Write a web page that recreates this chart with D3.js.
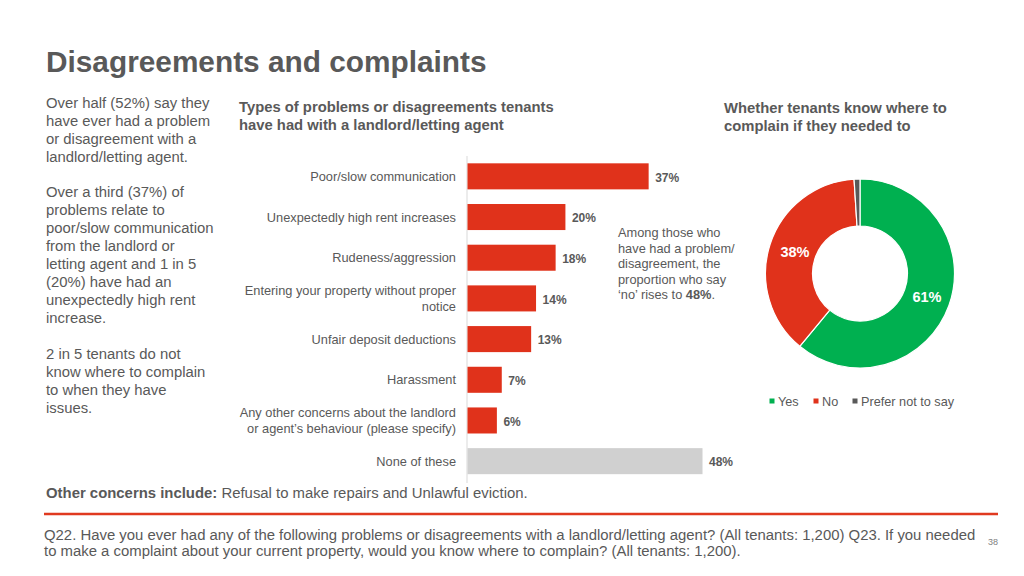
<!DOCTYPE html>
<html><head><meta charset="utf-8">
<script src="https://cdn.jsdelivr.net/npm/d3@7"></script>
<style>body{margin:0;background:#fff;}svg{display:block;font-family:"Liberation Sans",Arial,sans-serif;}</style>
</head><body>
<svg id="c" width="1024" height="576"></svg>
<script>
const categories = [
  ["Poor/slow communication"],
  ["Unexpectedly high rent increases"],
  ["Rudeness/aggression"],
  ["Entering your property without proper","notice"],
  ["Unfair deposit deductions"],
  ["Harassment"],
  ["Any other concerns about the landlord","or agent\u2019s behaviour (please specify)"],
  ["None of these"]
];
const values = [37, 20, 18, 14, 13, 7, 6, 48];
const barIsNone = [false,false,false,false,false,false,false,true];
const pieLabels = ["Yes", "No", "Prefer not to say"];
const pieValues = [61, 38, 1];
const pieShown = ["61%", "38%", ""];

const svg = d3.select("#c");
const txt = "#595959";
const red = "#e0321b", green = "#00b050", dark = "#595959", grey = "#d0d0d0";

svg.append("text").attr("x",46).attr("y",72).attr("font-size",29.8).attr("font-weight","bold").attr("fill",txt).text("Disagreements and complaints");

const leftParas = [
  [103, ["Over half (52%) say they","have ever had a problem","or disagreement with a","landlord/letting agent."]],
  [192, ["Over a third (37%) of","problems relate to","poor/slow communication","from the landlord or","letting agent and 1 in 5","(20%) have had an","unexpectedly high rent","increase."]],
  [354, ["2 in 5 tenants do not","know where to complain","to when they have","issues."]]
];
leftParas.forEach(([y0, lines]) => {
  lines.forEach((l,i)=> svg.append("text").attr("x",46).attr("y",y0+i*18).attr("dy","0.35em").attr("font-size",14.85).attr("fill",txt).text(l));
});

[["Types of problems or disagreements tenants",239,107],["have had with a landlord/letting agent",239,125],
 ["Whether tenants know where to",724,108],["complain if they needed to",724,126]].forEach(([t,x,y])=>
  svg.append("text").attr("x",x).attr("y",y).attr("dy","0.35em").attr("font-size",14.8).attr("font-weight","bold").attr("fill",txt).text(t));

// Bar chart
const x0 = 467;
const xs = d3.scaleLinear().domain([0,48]).range([x0, 702]);
const ys = d3.scaleBand().domain(d3.range(values.length)).range([156, 481.5]).paddingInner(0.36).paddingOuter(0.18);
svg.append("line").attr("x1",x0).attr("x2",x0).attr("y1",156).attr("y2",483).attr("stroke","#d9d9d9").attr("stroke-width",1);
const g = svg.append("g");
values.forEach((v,i)=>{
  g.append("rect").attr("x",xs(0)+0.5).attr("y",ys(i)).attr("width",xs(v)-xs(0)).attr("height",ys.bandwidth()).attr("fill",barIsNone[i]?grey:red);
  const cy = ys(i)+ys.bandwidth()/2;
  g.append("text").attr("x",xs(v)+7).attr("y",cy+1).attr("dy","0.35em").attr("font-size",12).attr("font-weight","bold").attr("fill",txt).text(v+"%");
  const lines = categories[i];
  lines.forEach((l,k)=>{
    g.append("text").attr("x",456).attr("y",cy+(k-(lines.length-1)/2)*15.5).attr("dy","0.35em").attr("text-anchor","end").attr("font-size",12.8).attr("fill",txt).text(l);
  });
});

// annotation
const ann = ["Among those who","have had a problem/","disagreement, the","proportion who say"];
ann.forEach((l,i)=> svg.append("text").attr("x",618).attr("y",233+i*15.5).attr("dy","0.35em").attr("font-size",12.8).attr("fill",txt).text(l));
const lastAnn = svg.append("text").attr("x",618).attr("y",233+4*15.5).attr("dy","0.35em").attr("font-size",12.8).attr("fill",txt);
lastAnn.append("tspan").text("\u2018no\u2019 rises to ");
lastAnn.append("tspan").attr("font-weight","bold").text("48%");
lastAnn.append("tspan").text(".");

// Donut
const pieColors = [green, red, dark];
const cx = 860, cy = 273.5;
const pie = d3.pie().sort(null).value(d=>d)(pieValues);
const arc = d3.arc().innerRadius(47.5).outerRadius(94.5);
const pg = svg.append("g").attr("transform",`translate(${cx},${cy})`);
pg.selectAll("path").data(pie).join("path").attr("d",arc).attr("fill",(d,i)=>pieColors[i]).attr("stroke","#fff").attr("stroke-width",1.2);
const labelPos = [[67,23.5],[-65,-21.5]];
[0,1].forEach(i=>{
  pg.append("text").attr("x",labelPos[i][0]).attr("y",labelPos[i][1]).attr("dy","0.35em").attr("text-anchor","middle").attr("font-size",14.5).attr("font-weight","bold").attr("fill","#fff").text(pieShown[i]);
});

// legend
const legX = [772, 816, 855];
pieLabels.forEach((l,i)=>{
  svg.append("rect").attr("x",legX[i]-2.5).attr("y",398.5).attr("width",5).attr("height",5).attr("fill",pieColors[i]);
  svg.append("text").attr("x",legX[i]+6).attr("y",401.5).attr("dy","0.35em").attr("font-size",12.7).attr("fill",txt).text(l);
});

// footer
const oc = svg.append("text").attr("x",46).attr("y",492.5).attr("dy","0.35em").attr("font-size",14.9).attr("fill",txt);
oc.append("tspan").attr("font-weight","bold").text("Other concerns include: ");
oc.append("tspan").text("Refusal to make repairs and Unlawful eviction.");
svg.append("line").attr("x1",44).attr("x2",998).attr("y1",514).attr("y2",514).attr("stroke","#e03a20").attr("stroke-width",2.5);
svg.append("text").attr("x",44).attr("y",535).attr("dy","0.35em").attr("font-size",14.9).attr("fill",txt).text("Q22. Have you ever had any of the following problems or disagreements with a landlord/letting agent? (All tenants: 1,200) Q23. If you needed");
svg.append("text").attr("x",44).attr("y",551).attr("dy","0.35em").attr("font-size",14.9).attr("fill",txt).text("to make a complaint about your current property, would you know where to complain? (All tenants: 1,200).");
svg.append("text").attr("x",988).attr("y",542).attr("dy","0.35em").attr("font-size",9).attr("fill","#7f7f7f").text("38");
</script>
</body></html>
